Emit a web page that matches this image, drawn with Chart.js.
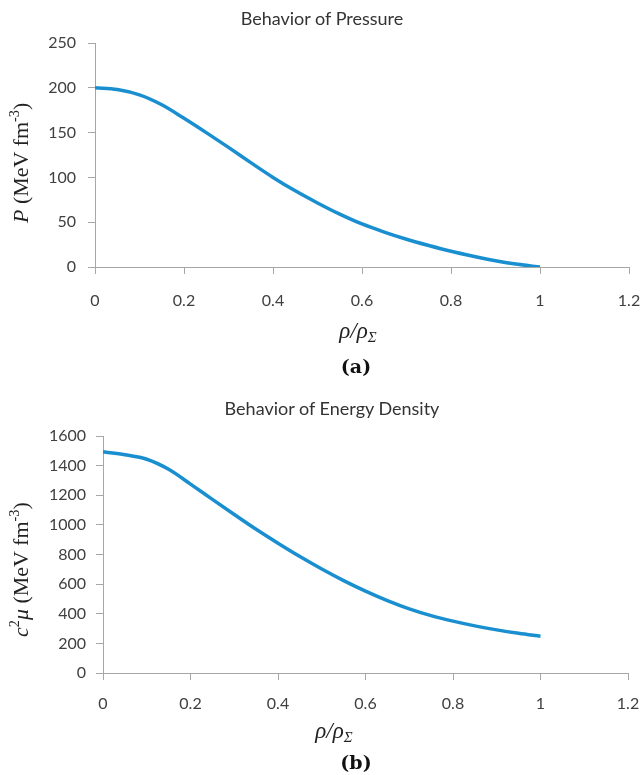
<!DOCTYPE html>
<html>
<head>
<meta charset="utf-8">
<script src="https://cdn.jsdelivr.net/npm/chart.js@4.4.0/dist/chart.umd.min.js"></script>
<style>
body { margin: 0; background: #fff; }
#page { position: relative; width: 644px; height: 775px; overflow: hidden; background: #fff; }
canvas { position: absolute; left: 0; display: block; }
.title { position: absolute; font: 18px Lato, sans-serif; color: #333; white-space: nowrap; transform: translate(-50%, -50%); }
.ytitle { position: absolute; font: 22px "Liberation Serif", serif; color: #222; white-space: nowrap; transform-origin: 0 0; transform: rotate(-90deg); line-height: 24px; }
.xtitle { position: absolute; font: italic 23px "Liberation Serif", serif; color: #222; white-space: nowrap; transform: translate(-50%, -50%); }
.panel { position: absolute; font: bold 19px "DejaVu Serif", serif; color: #111; white-space: nowrap; transform: translate(-50%, -50%); }
sup { font-size: 0.65em; vertical-align: 0.6em; line-height: 0; }
sub { font-size: 0.65em; vertical-align: -0.25em; line-height: 0; }
</style>
</head>
<body>
<div id="page">
  <canvas id="chartA" width="644" height="320" style="top:0"></canvas>
  <canvas id="chartB" width="644" height="330" style="top:390px"></canvas>

  <div class="title" style="left:322px; top:18px">Behavior of Pressure</div>
  <div class="ytitle" style="left:9px; top:223px"><i>P</i> (MeV fm<sup>-3</sup>)</div>
  <div class="xtitle" style="left:358px; top:331px">ρ/ρ<sub>Σ</sub></div>
  <div class="panel" style="left:356px; top:366px">(a)</div>

  <div class="title" style="left:332px; top:408px">Behavior of Energy Density</div>
  <div class="ytitle" style="left:9px; top:637px"><i>c</i><sup>2</sup><i>μ</i> (MeV fm<sup>-3</sup>)</div>
  <div class="xtitle" style="left:334px; top:731px">ρ/ρ<sub>Σ</sub></div>
  <div class="panel" style="left:356px; top:762px">(b)</div>
</div>

<script>
const rhoRatio = [0, 0.05, 0.1, 0.15, 0.2, 0.25, 0.3, 0.35, 0.4, 0.45, 0.5,
                  0.55, 0.6, 0.65, 0.7, 0.75, 0.8, 0.85, 0.9, 0.95, 1];
const pressure = [200, 198, 192, 181, 166, 150, 133.5, 116.5, 100, 85, 71.5,
                  59, 48, 39, 31, 24, 17.5, 12, 7, 3, 0];
const energyDensity = [1493, 1473, 1443, 1375, 1275, 1172, 1070, 970, 876, 786, 702,
                       624, 553, 489, 433, 387, 350, 318, 291, 268, 248];
const xTicks = [0, 0.2, 0.4, 0.6, 0.8, 1, 1.2];

const axisGray = '#a6a6a6';
const tickFont = { family: 'Lato', size: 16 };

function drawPanel(id, values, yMax, yStep, box) {
    return new Chart(document.getElementById(id), {
        type: 'line',
        data: {
            datasets: [{
                data: rhoRatio.map((x, i) => ({ x: x, y: values[i] })),
                borderColor: '#1a8fd0',
                borderWidth: 3.5,
                pointRadius: 0,
                cubicInterpolationMode: 'monotone',
                fill: false
            }]
        },
        options: {
            responsive: false,
            animation: false,
            events: [],
            layout: { padding: { left: 0, right: box.right, top: box.top, bottom: 0 } },
            plugins: { legend: { display: false }, tooltip: { enabled: false } },
            scales: {
                x: {
                    type: 'linear',
                    min: 0,
                    max: 1.2,
                    afterBuildTicks: s => { s.ticks = xTicks.map(v => ({ value: v })); },
                    ticks: { color: '#404040', font: tickFont, padding: box.xPad, maxRotation: 0,
                             callback: v => String(Math.round(v * 10) / 10) },
                    grid: { drawOnChartArea: false, color: axisGray, tickLength: 7 },
                    border: { color: axisGray, width: 1 },
                    afterFit: s => {
                        s.height = box.xHeight;
                        s.paddingLeft = 0;
                        s.paddingRight = 0;
                    }
                },
                y: {
                    min: 0,
                    max: yMax,
                    ticks: { stepSize: yStep, color: '#404040', font: tickFont, padding: box.yPad,
                             callback: v => String(v) },
                    grid: { drawOnChartArea: false, color: axisGray, tickLength: 7 },
                    border: { color: axisGray, width: 1 },
                    afterFit: s => {
                        s.width = box.yWidth;
                        s.paddingTop = 0;
                        s.paddingBottom = 0;
                    }
                }
            }
        }
    });
}

drawPanel('chartA', pressure, 250, 50,
    { top: 43, right: 15, xHeight: 53, yWidth: 95, xPad: 17, yPad: 12 });
drawPanel('chartB', energyDensity, 1600, 200,
    { top: 46, right: 16, xHeight: 47, yWidth: 103, xPad: 14, yPad: 10 });
</script>
</body>
</html>
